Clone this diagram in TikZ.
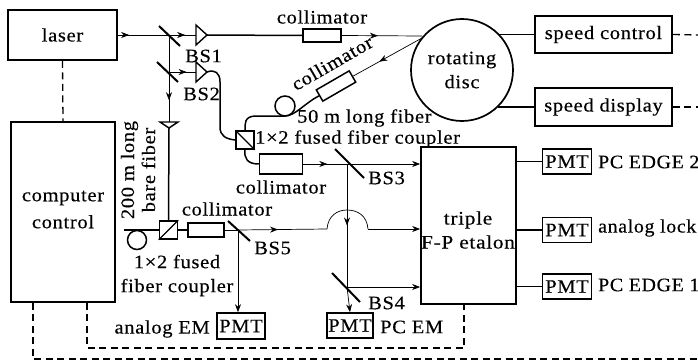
\documentclass[tikz,border=0pt]{standalone}
\usepackage{fontspec}
\setmainfont[FakeStretch=1.08,LetterSpace=3.5,FakeBold=0.35]{Liberation Serif}
\usetikzlibrary{arrows.meta,decorations.markings}
\tikzset{
 x=1pt,y=-1pt,
 every node/.style={font=\fontsize{19}{24}\selectfont,inner sep=0pt,align=center},
 box/.style={draw,line width=1.7pt,inner sep=0pt},
 pmt/.style={draw,line width=1.6pt,inner sep=0pt,minimum width=49pt,minimum height=25pt},
 opt/.style={draw,line width=1.5pt,fill=white,inner sep=0pt},
 fib/.style={line width=1.5pt},
 beam/.style={line width=0.7pt},
 ctl/.style={line width=1.3pt,dash pattern=on 7pt off 4.5pt},
 mir/.style={line width=2pt},
 tri/.style={line width=1.4pt,fill=white},
 mk/.style={postaction={decorate},decoration={markings,mark=at position #1 with {\arrow[line width=.6pt]{Stealth[length=8pt,width=6pt]}}}},
 tip/.style={-{Stealth[length=8pt,width=6pt]}},
}
\begin{document}
\begin{tikzpicture}
\useasboundingbox (0,0) rectangle (698,361);
% main boxes
\node[box,minimum width=109pt,minimum height=50pt] (laser) at (62.5,35) {laser};
\node[box,minimum width=104pt,minimum height=180pt] (comp) at (63,212) {};
\node (ctxt) at (63,209.5) {computer\\[3pt]control};
\node[box,minimum width=95pt,minimum height=157pt] (etalon) at (468.5,225.5) {};
\node[xscale=1.04] (etxt) at (468,230) {triple\\F-P etalon};
\node[box,circle,minimum size=102pt] (disc) at (462,70) {rotating\\disc};
\node[box,minimum width=137pt,minimum height=37pt] (sc) at (603.5,34.5) {speed control};
\node[box,minimum width=137pt,minimum height=38pt] (sd) at (603.5,107) {speed display};
\node[pmt] (p2) at (567,161.5) {PMT};
\node[pmt] (pl) at (567,230) {PMT};
\node[pmt] (p1) at (567,286.5) {PMT};
\node[pmt,minimum width=48pt,minimum height=26pt] (pa) at (241,326) {PMT};
\node[pmt,minimum width=46pt,minimum height=25pt] (pc) at (350,325.5) {PMT};
% free ends
\coordinate (e1) at (698,35);
\coordinate (e2) at (698,107);
\coordinate (ca) at (33,359);
\coordinate (cb) at (698,359);
\coordinate (cc) at (87,348);
\coordinate (cd) at (464,348);
% control lines
\draw[ctl] (laser.south) -- (comp.north);
\draw[ctl] (comp.south -| ca) -- (ca) -- (cb);
\draw[ctl] (comp.south -| cc) -- (cc) -- (cd) -- (etalon.south -| cd);
\draw[ctl] (sc.east) -- (e1);
\draw[ctl] (sd.east) -- (e2);
% solid links
\draw[line width=1.5pt] (disc.east |- sc.west) ++(-16,0) -- (sc.west);
\draw[line width=1.5pt] (disc.east |- sd.west) ++(-16,0) -- (sd.west);
\draw[line width=1.5pt] (etalon.east |- p2.west) -- (p2.west);
\draw[line width=1.5pt] (etalon.east |- pl.west) -- (pl.west);
\draw[line width=1.5pt] (etalon.east |- p1.west) -- (p1.west);
% upper optics
\coordinate (bs1) at (169,35);
\coordinate (bs2) at (169,72);
\coordinate (dh) at (422,36);
\coordinate (dr) at (422,38);
\node[opt,minimum width=38pt,minimum height=13pt] (c1) at (322,35.5) {};
\node[opt,minimum width=38pt,minimum height=13pt,rotate=30] (c2) at (336,86) {};
\node[opt,minimum width=18pt,minimum height=18pt] (f1) at (245,140) {};
\draw[line width=1.4pt] (f1.north west) -- (f1.south east);
\node[opt,minimum width=43pt,minimum height=20pt] (c3) at (281,164) {};
\draw[beam,mk=.22] (laser.east) -- (bs1);
\draw[beam,mk=.6] (bs1) -- (196,35);
\draw[beam,mk=.65] (bs2) -- (196,72);
\draw[beam,mk=.75] (bs1) -- (169,122);
\draw[tri] (196,25) -- (207,35) -- (196,45) -- cycle;
\coordinate (ap1) at (207,35);
\draw[tri] (196,62) -- (207,72) -- (196,82) -- cycle;
\coordinate (ap2) at (207,72);
\draw[mir] (159,26) -- (180,46);
\draw[mir] (157,62) -- (178,82);
\draw[fib] (ap1) -- (c1.west);
\draw[beam,mk=.45] (c1.east) -- (dh);
\draw[beam,mk=.62] (dr) -- (c2.east);
\draw[fib] (ap2) .. controls (215,69) and (220,73) .. (220,82) -- (220,127) .. controls (220,136) and (226,139) .. (f1.west);
\draw[fib] (f1.north) .. controls (245,124) and (244,116) .. (256,116) -- (285,116);
\draw[fib] (285,106) circle[radius=10];
\draw[fib] (285,116) .. controls (295,116) and (305,103) .. (c2.west);
\draw[fib] (f1.south) .. controls (244,158) and (247,164) .. (c3.west);
% BS3, BS4
\coordinate (bs3) at (347,164);
\coordinate (bs4) at (347,287);
\draw[beam,mk=.55] (c3.east) -- (bs3);
\draw[beam,tip] (bs3) -- (etalon.west |- bs3);
\draw[beam,mk=.5] (bs3) -- (bs4);
\draw[beam,tip] (bs4) -- (pc.north);
\draw[beam,tip] (bs4) -- (etalon.west |- bs4);
\draw[mir] (335,149) -- (364,178);
\draw[mir] (332,273) -- (360,302);
% lower optics
\draw[tri] (160,122) -- (178,122) -- (169,128) -- cycle;
\coordinate (ap3) at (169,128);
\node[opt,minimum width=18pt,minimum height=18pt] (f2) at (168.5,230) {};
\draw[line width=1.4pt] (f2.north east) -- (f2.south west);
\node[opt,minimum width=36pt,minimum height=14pt] (c4) at (206,230) {};
\coordinate (tail) at (124,230);
\draw[fib] (ap3) -- (f2.north);
\draw[fib] (tail) -- (f2.west);
\draw[fib] (137,240) circle[radius=9.5];
\draw[fib] (f2.east) -- (c4.west);
\coordinate (bs5) at (238,230);
\draw[beam] (c4.east) -- (bs5);
\draw[beam,mk=.45] (bs5) -- (327,229);
\draw[beam] (327,229) .. controls (328,216) and (337,210) .. (347,210) .. controls (358,210) and (367,216) .. (368,229);
\draw[beam,tip] (368,229) -- (etalon.west |- 368,229);
\draw[beam,tip] (bs5) -- (pa.north -| bs5);
\draw[mir] (228,221) -- (250,241);
% labels
\node (l1) at (322,17) {collimator};
\node[rotate=30] (l2) at (332,63) {collimator};
\node[anchor=west] (l3) at (297,118) {50 m long fiber};
\node[anchor=west] (l4) at (255,139) {1×2 fused fiber coupler};
\node (l5) at (281,187) {collimator};
\node (l6) at (227,209) {collimator};
\node (l7) at (177,275.5) {1×2 fused\\fiber coupler};
\node[rotate=90,font=\fontsize{19}{21}\selectfont] (l8) at (138,170) {200 m long\\bare fiber};
\node[anchor=west] (b1) at (185,56) {BS1};
\node[anchor=west] (b2) at (183,94) {BS2};
\node[anchor=west] (b3) at (368,178) {BS3};
\node[anchor=west] (b4) at (368,303) {BS4};
\node[anchor=west] (b5) at (254,248) {BS5};
\node[anchor=east] (l9) at (210,329) {analog EM};
\node[anchor=west] (l10) at (380,327) {PC EM};
\node[anchor=west,xscale=.97] (l11) at (598,162) {PC EDGE 2};
\node[anchor=west,xscale=.97] (l12) at (598,228) {analog lock};
\node[anchor=west,xscale=.97] (l13) at (598,285) {PC EDGE 1};
\end{tikzpicture}
\end{document}
